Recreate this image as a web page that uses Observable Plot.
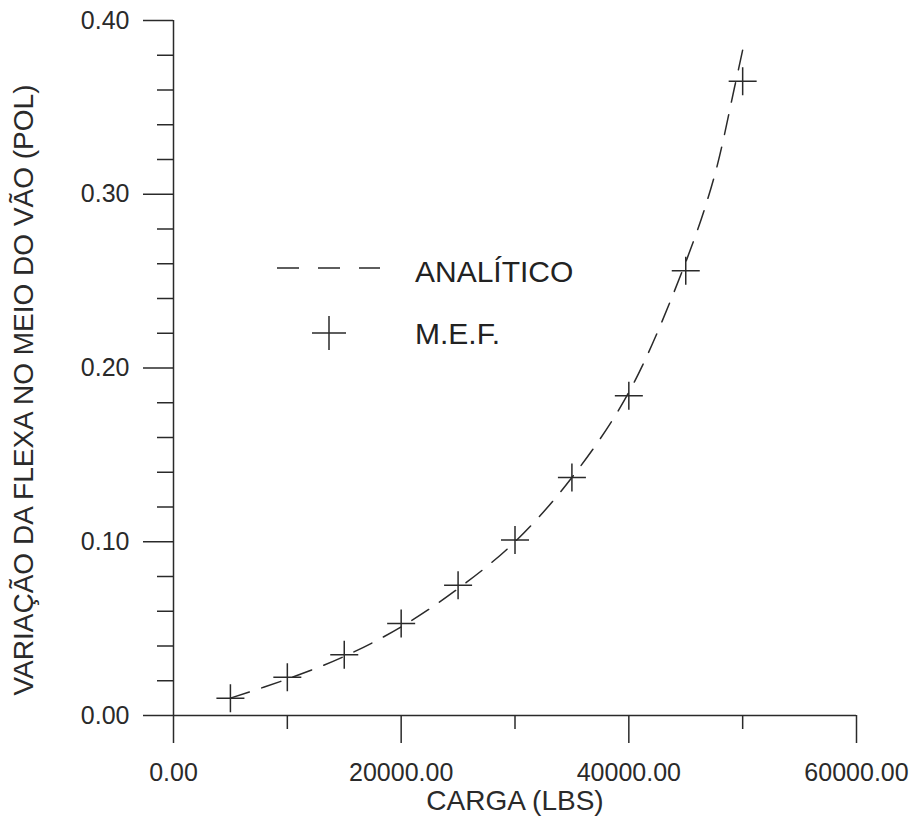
<!DOCTYPE html>
<html><head><meta charset="utf-8">
<script src="https://cdn.jsdelivr.net/npm/d3@7"></script>
<script src="https://cdn.jsdelivr.net/npm/@observablehq/plot@0.6"></script>
<style>
body{margin:0;background:#fff;}
#wrap{position:relative;width:914px;height:834px;font-family:"Liberation Sans",Arial,Helvetica,sans-serif;color:#222;}
#legend{position:absolute;left:0;top:0;width:914px;height:834px;pointer-events:none;}
.lg{position:absolute;font-size:30px;line-height:30px;color:#222;white-space:nowrap;}
</style></head><body><div id="wrap"></div>
<script>
// M.E.F. (finite element) results
const loadMEF = [5000, 10000, 15000, 20000, 25000, 30000, 35000, 40000, 45000, 50000];
const deflMEF = [0.010, 0.022, 0.035, 0.053, 0.075, 0.101, 0.137, 0.184, 0.256, 0.365];
// Analytical curve
const loadAnalytic = [5000, 10000, 15000, 20000, 25000, 30000, 35000, 40000, 45000, 47500, 49300, 50000];
const deflAnalytic = [0.010, 0.021, 0.034, 0.051, 0.073, 0.100, 0.137, 0.186, 0.261, 0.310, 0.362, 0.383];
// ticks
const xMajorTicks = [0, 20000, 40000, 60000];
const xMinorTicks = [10000, 30000, 50000];
const yMajorTicks = [0, 0.1, 0.2, 0.3, 0.4];
const yMinorTicks = [0.02, 0.04, 0.06, 0.08, 0.12, 0.14, 0.16, 0.18, 0.22, 0.24, 0.26, 0.28, 0.32, 0.34, 0.36, 0.38];
const xLabel = "CARGA (LBS)";
const yLabel = "VARIAÇÃO DA FLEXA NO MEIO DO VÃO (POL)";
const legendLabels = ["ANALÍTICO", "M.E.F."];

const mef = loadMEF.map((x, i) => ({x, y: deflMEF[i]}));
const analytic = loadAnalytic.map((x, i) => ({x, y: deflAnalytic[i]}));

const plusSymbol = {
  draw(ctx, size) {
    const h = Math.sqrt(size / Math.PI);
    ctx.moveTo(-h, 0); ctx.lineTo(h, 0);
    ctx.moveTo(0, -h); ctx.lineTo(0, h);
  }
};
const ink = "#2a2a2a";

const chart = Plot.plot({
  width: 914, height: 834,
  marginLeft: 173, marginRight: 58, marginTop: 20, marginBottom: 119,
  style: {fontFamily: '"Liberation Sans", Arial, Helvetica, sans-serif', color: ink, background: "white"},
  x: {domain: [0, 60000]},
  y: {domain: [0, 0.4]},
  marks: [
    Plot.axisX({ticks: xMajorTicks, tickSize: 28, tickPadding: 20, tickFormat: d => d.toFixed(2), fontSize: 25, label: null, stroke: ink, strokeWidth: 1.5}),
    Plot.axisX({ticks: xMinorTicks, tickSize: 14, tickFormat: () => "", label: null, stroke: ink, strokeWidth: 1.5}),
    Plot.axisY({ticks: yMajorTicks, tickSize: 30, tickPadding: 14, tickFormat: d => d.toFixed(2), fontSize: 25, label: null, stroke: ink, strokeWidth: 1.5}),
    Plot.axisY({ticks: yMinorTicks, tickSize: 16, tickFormat: () => "", label: null, stroke: ink, strokeWidth: 1.5}),
    Plot.ruleY([0], {stroke: ink, strokeWidth: 1.5}),
    Plot.ruleX([0], {stroke: ink, strokeWidth: 1.5}),
    Plot.text([xLabel], {frameAnchor: "bottom", dy: 94, fontSize: 28, fill: ink}),
    Plot.text([yLabel], {frameAnchor: "left", textAnchor: "middle", dx: -149, dy: 22, rotate: -90, fontSize: 28, fill: ink}),
    Plot.line(analytic, {x: "x", y: "y", curve: "catmull-rom", stroke: ink, strokeWidth: 1.5, strokeDasharray: "20,13"}),
    Plot.dot(mef, {x: "x", y: "y", symbol: plusSymbol, r: 14, stroke: ink, strokeWidth: 1.5, fill: "none"})
  ]
});
const wrap = document.getElementById("wrap");
wrap.appendChild(chart);

// legend overlay
const lg = document.createElement("div");
lg.id = "legend";
const ns = "http://www.w3.org/2000/svg";
const svg = document.createElementNS(ns, "svg");
svg.setAttribute("width", 914); svg.setAttribute("height", 834);
svg.style.position = "absolute"; svg.style.left = "0"; svg.style.top = "0";
const dash = document.createElementNS(ns, "line");
dash.setAttribute("x1", 277); dash.setAttribute("x2", 380);
dash.setAttribute("y1", 268); dash.setAttribute("y2", 268);
dash.setAttribute("stroke", ink); dash.setAttribute("stroke-width", 1.5);
dash.setAttribute("stroke-dasharray", "22,19");
svg.appendChild(dash);
const p = document.createElementNS(ns, "path");
p.setAttribute("d", "M312,333H346M329,316V350");
p.setAttribute("stroke", ink); p.setAttribute("stroke-width", 1.5); p.setAttribute("fill", "none");
svg.appendChild(p);
lg.appendChild(svg);
[[legendLabels[0], 272], [legendLabels[1], 334]].forEach(([t, cy]) => {
  const s = document.createElement("div");
  s.className = "lg"; s.textContent = t;
  s.style.left = "415px"; s.style.top = (cy - 15) + "px";
  lg.appendChild(s);
});
wrap.appendChild(lg);
</script>
</body></html>
